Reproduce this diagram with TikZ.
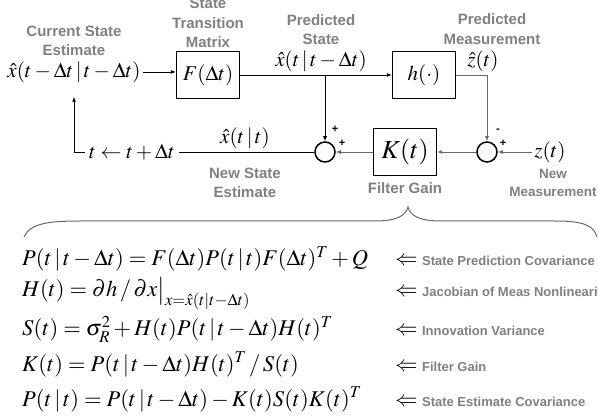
\documentclass[tikz,border=0pt]{standalone}
\usepackage{mathptmx}
\usepackage[no-math]{fontspec}
\setmainfont{Liberation Serif}
\setsansfont{Liberation Sans}
\usepackage{xcolor}
\usepackage{tikz}
\usetikzlibrary{arrows.meta,positioning}
\definecolor{lblgray}{RGB}{128,128,128}
\definecolor{lngray}{RGB}{105,105,105}

\begin{document}
\begin{tikzpicture}[
	x=1pt, y=-1pt,
	font=\fontsize{21}{24}\selectfont,
	inner sep=2pt,
	>={Latex[length=5pt,width=4pt]},
	node distance=3pt,
	blk/.style={rectangle, draw=black, line width=1.3pt, minimum width=63pt, minimum height=47pt, inner sep=0pt},
	sumnode/.style={circle, draw=black, line width=1.5pt, minimum size=20pt, inner sep=0pt},
	lbl/.style={font=\fontsize{15}{19.5}\selectfont\sffamily\bfseries, text=lblgray, align=center, inner sep=0pt},
	sgn/.style={font=\fontsize{11}{11}\selectfont\sffamily\bfseries, inner sep=0pt},
	eqn/.style={anchor=base west, inner sep=0pt, font=\fontsize{22.5}{26}\selectfont},
	eqlbl/.style={anchor=base west, inner sep=0pt, font=\fontsize{13}{16}\selectfont\sffamily\bfseries, text=lblgray},
	seta/.style={->, line width=0.9pt},
	setag/.style={->, line width=0.9pt, lngray},
]
\useasboundingbox (0,0) rectangle (598,417);
% Laco do filtro
\node (xprev) at (74,72) {$\hat{x}(t-\Delta t\,|\,t-\Delta t)$};
\node[blk] (Fb) at (208,75) {$F(\Delta t)$};
\node[blk] (hb) at (424,75) {$h(\cdot)$};
\node[blk, font=\fontsize{26}{28}\selectfont] (Kb) at (405,152) {$K(t)$};
\node[sumnode] (s1) at (325,152) {};
\node[sumnode] (s2) at (487,152) {};
\node (xpred) at (321,61) {$\hat{x}(t\,|\,t-\Delta t)$};
\node (zhat) at (483,61) {$\hat{z}(t)$};
\node (znew) at (550,152) {$z(t)$};
\node[inner sep=4pt] (tupd) at (132,152) {$t \leftarrow t+\Delta t$};
\node (xnew) at (245,138) {$\hat{x}(t\,|\,t)$};
% Rotulos
\node[lbl, above=of xprev] {Current State\\Estimate};
\node[lbl, above=of Fb] {State\\Transition\\Matrix};
\node[lbl, above=of xpred] {Predicted\\State};
\node[lbl] at (492,29) {Predicted\\Measurement};
\node[lbl] at (245,183) {New State\\Estimate};
\node[lbl, below=6pt of Kb] {Filter Gain};
\node[lbl, font=\fontsize{13.5}{18}\selectfont\sffamily\bfseries] at (553,183) {New\\Measurement};
\node[sgn] at (335,129) {+};
\node[sgn] at (342,143) {+};
\node[sgn] at (498,131) {-};
\node[sgn] at (503,143) {+};
% Conexoes
\coordinate (jA) at (s1 |- Fb);
\draw[seta] (xprev.east) -- (xprev.east -| Fb.west);
\draw[seta] (Fb.east) -- (hb.west);
\draw[seta] (jA) -- (s1.north);
\draw[setag] (hb.east) -| (s2.north);
\draw[setag] (znew.west) -- (s2.east);
\draw[setag] (s2.west) -- (Kb.east);
\draw[setag] (Kb.west) -- (s1.east);
\draw[line width=0.9pt] (s1.west) -- (tupd.east);
\draw[seta] (tupd.west) -| ([yshift=-12pt]xprev.south);
% Chave
\draw[lngray, line width=1pt] (24,237) .. controls (30,223) and (50,221) .. (80,221) -- (375,221)
	.. controls (398,221) and (406,215) .. (408,207) .. controls (410,215) and (418,221) .. (441,221)
	-- (555,221) .. controls (585,221) and (594,226) .. (597,237);
% Equacoes
\node[eqn] (e1) at (22,266) {$P(t\,|\,t-\Delta t) = F(\Delta t)P(t\,|\,t)F(\Delta t)^T + Q$};
\node[eqn] (e2) at (22,297) {$H(t) = \partial h\,/\,\partial x\big|_{x=\hat{x}(t|t-\Delta t)}$};
\node[eqn] (e3) at (22,336) {$S(t) = \sigma_R^2 + H(t)P(t\,|\,t-\Delta t)H(t)^T$};
\node[eqn] (e4) at (22,371) {$K(t) = P(t\,|\,t-\Delta t)H(t)^T\,/\,S(t)$};
\node[eqn] (e5) at (22,406) {$P(t\,|\,t) = P(t\,|\,t-\Delta t)-K(t)S(t)K(t)^T$};
\node[eqn] (a1) at (395,266) {$\Leftarrow$};
\node[eqn] (a2) at (395,297) {$\Leftarrow$};
\node[eqn] (a3) at (395,336) {$\Leftarrow$};
\node[eqn] (a4) at (395,371) {$\Leftarrow$};
\node[eqn] (a5) at (395,406) {$\Leftarrow$};
\node[eqlbl] at ([xshift=4pt]a1.base east) {State Prediction Covariance};
\node[eqlbl] at ([xshift=4pt]a2.base east) {Jacobian of Meas Nonlinearity};
\node[eqlbl] at ([xshift=4pt]a3.base east) {Innovation Variance};
\node[eqlbl] at ([xshift=4pt]a4.base east) {Filter Gain};
\node[eqlbl] at ([xshift=4pt]a5.base east) {State Estimate Covariance};
\end{tikzpicture}
\end{document}
